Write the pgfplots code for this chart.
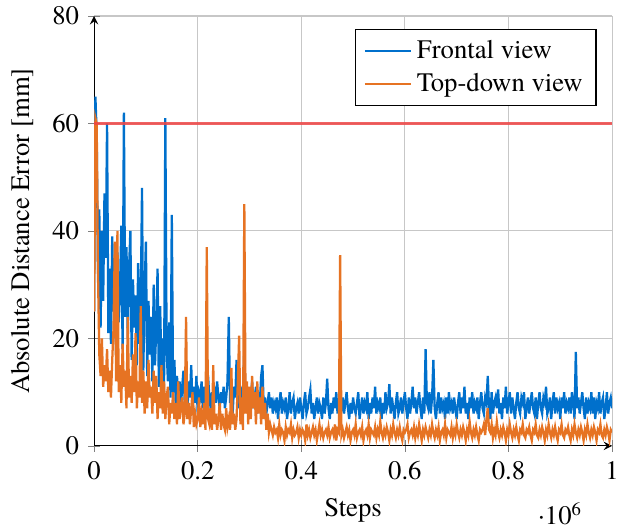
\documentclass[border=0pt]{standalone}
\usepackage{fontspec}
\setmainfont{TeX Gyre Termes}
\usepackage{pgfplots}
\usepackage{pgfplotstable}
\pgfplotsset{compat=1.18}
\definecolor{cblue}{RGB}{0,112,204}
\definecolor{corange}{RGB}{230,115,35}
\definecolor{cred}{RGB}{238,70,70}

\pgfplotstableread[header=false,row sep=\\]{
25\\65\\58\\32\\44\\22\\40\\27\\47\\35\\60\\21\\33\\19\\39\\25\\30\\17\\36\\23\\
29\\41\\18\\62\\24\\37\\20\\33\\40\\16\\31\\22\\28\\15\\34\\19\\26\\48\\14\\29\\
38\\13\\27\\17\\24\\12\\30\\15\\22\\33\\11\\26\\14\\20\\10\\61\\18\\12\\23\\9\\
43\\10\\16\\8\\13\\9\\12\\7\\11\\14\\8\\10\\6\\12\\9\\15\\7\\11\\8\\13\\
6\\10\\9\\12\\7\\11\\8\\14\\13\\9\\7\\10\\6\\11\\8\\12\\9\\7\\10\\8\\
11\\7\\9\\12\\24\\8\\10\\6\\11\\9\\16\\7\\12\\8\\10\\9\\18\\7\\11\\6\\
10\\8\\12\\7\\9\\11\\6\\10\\8\\13\\15\\7\\9\\6\\8\\10\\7\\9\\6\\8\\
7\\9\\5\\8\\10\\6\\8\\7\\9\\5\\7\\10\\6\\8\\9\\5\\7\\8\\6\\9\\
7\\5\\8\\10\\6\\7\\9\\10.5\\6\\8\\5\\7\\9\\6\\8\\7\\5\\9\\6\\8\\
12.5\\7\\5\\8\\6\\9\\7\\10\\6\\8\\5\\7\\9\\6\\8\\10\\7\\5\\8\\6\\
9\\7\\6\\8\\10\\5\\7\\9\\6\\8\\7\\10\\5\\8\\6\\9\\7\\11\\6\\8\\
7\\9\\5\\8\\6\\10\\7\\8\\11.5\\6\\9\\7\\5\\8\\10\\6\\7\\9\\6\\8\\
10\\7\\5\\9\\6\\8\\11\\7\\9\\6\\8\\10\\7\\5\\9\\6\\18\\8\\7\\10\\
6\\9\\16\\7\\5\\8\\10\\6\\9\\7\\8\\5\\9\\6\\10\\7\\8\\6\\9\\7\\
5\\8\\10\\6\\9\\7\\11\\6\\8\\5\\9\\7\\10\\6\\8\\7\\9\\5\\8\\10\\
7\\6\\9\\8\\13\\7\\5\\10\\6\\8\\9\\7\\10.5\\6\\8\\5\\9\\7\\11\\6\\
8\\10\\6\\9\\7\\5\\8\\10\\7\\6\\9\\8\\10\\5\\7\\9\\6\\8\\10\\7\\
6\\9\\5\\8\\10\\7\\6\\9\\8\\11\\6\\7\\9\\5\\8\\10\\6\\9\\7\\8\\
5\\9\\7\\10\\6\\8\\7\\9\\6\\10\\8\\5\\17.5\\7\\9\\6\\8\\10\\7\\5\\
9\\6\\8\\7\\10\\6\\9\\5\\8\\7\\10\\6\\8\\9\\5\\7\\10\\6\\8\\9\\
7\\
}\frontal

\pgfplotstableread[header=false,row sep=\\]{
25\\61\\60\\32\\17\\13\\20\\11\\15\\12\\18\\10\\14\\9\\16\\22\\38\\12\\40\\10\\
15\\8\\19\\11\\14\\7\\24\\9\\13\\8\\17\\10\\21\\7\\12\\9\\26\\8\\14\\6\\
12\\7\\16\\9\\11\\6\\14\\8\\13\\5\\10\\7\\15\\6\\12\\5\\9\\11\\4\\8\\
6\\10\\5\\8\\4\\12\\5\\7\\9\\4\\6\\24\\5\\8\\4\\7\\10\\3.5\\6\\4\\
5\\9\\3.5\\6\\4\\8\\3\\37\\5\\4\\7\\3\\15\\4\\6\\3\\5\\8\\3\\6\\
4\\3\\7\\3.5\\5\\3\\14.5\\4\\6\\3\\5\\12\\20.5\\4\\9\\3\\45\\6\\12\\4\\
11\\5\\13\\7\\10\\4\\12\\6\\9\\4\\11\\5\\8\\3\\6\\2.5\\4\\3\\2\\3.5\\
2.5\\3\\1.5\\4\\2\\3\\2.5\\1\\3.5\\2\\3\\2.5\\4\\1.5\\3\\2\\2.5\\3.5\\1.5\\3\\
2\\3\\2.5\\1\\4\\2\\3\\1.5\\2.5\\3.5\\2\\3\\1\\2.5\\4\\2\\3\\1.5\\2.5\\3\\
2\\3.5\\1.5\\2.5\\3\\2\\4\\1\\3\\2.5\\35.5\\2\\3\\1.5\\2.5\\3.5\\2\\3\\1\\2.5\\
3\\2\\4\\1.5\\2.5\\3\\2\\3.5\\1\\2.5\\3\\2\\4\\1.5\\3\\2.5\\2\\3.5\\1.5\\3\\
2\\4.5\\2.5\\1.5\\3\\2\\3.5\\2.5\\1\\3\\2\\4\\2.5\\1.5\\3\\2\\3.5\\2\\1\\3\\
2.5\\3\\4\\1.5\\2.5\\3\\2\\3.5\\1.5\\3\\2\\4\\2.5\\1\\3\\2\\3.5\\2.5\\1.5\\3\\
2\\4\\2.5\\1.5\\3\\2\\3.5\\1\\2.5\\3\\2\\4\\1.5\\3\\2.5\\2\\3.5\\1.5\\3\\2\\
4\\2.5\\1.5\\3\\2\\3.5\\2.5\\1\\3\\2\\4.5\\2.5\\1.5\\3\\2\\3.5\\2\\1\\3\\2.5\\
3\\4\\2\\5\\7\\3\\2.5\\4\\1.5\\3\\2\\4.5\\2.5\\1.5\\3\\2\\3.5\\2.5\\1\\3\\
2\\4\\2.5\\1.5\\3\\2\\3.5\\2\\1\\3\\2.5\\4\\2\\1.5\\3\\2.5\\3.5\\2\\1\\3\\
2.5\\4\\2\\1.5\\3\\2\\3.5\\2.5\\1\\3\\2\\4\\2.5\\1.5\\3\\2\\3.5\\2\\1\\3\\
2.5\\4\\2\\1.5\\3\\2.5\\3.5\\2\\1\\3\\2\\4\\2.5\\1.5\\3\\2\\3.5\\2.5\\1\\3\\
2\\4\\2.5\\1.5\\3\\2\\3.5\\2.5\\1\\3\\2.5\\4\\2\\1.5\\3\\2\\3.5\\2.5\\1\\3\\
2.5\\
}\topdown

\begin{document}
\begin{tikzpicture}
\begin{axis}[
  scale only axis,
  width=194pt, height=161pt,
  xmin=0, xmax=1000000,
  ymin=0, ymax=80,
  axis lines=left,
  grid=major,
  grid style={black!22},
  xtick={0,200000,400000,600000,800000,1000000},
  ytick={0,20,40,60,80},
  /pgf/number format/assume math mode=true,
  xtick scale label code/.code={·10\textsuperscript{#1}},
  xlabel={Steps},
  ylabel={Absolute Distance Error [mm]},
  legend style={draw=black, fill=white, legend cell align=left, font=\normalsize},
  legend pos=north east,
  tick label style={font=\normalsize},
]
\addplot[cblue, line width=0.85pt] table[x expr=\coordindex*2500, y index=0] {\frontal};
\addlegendentry{Frontal view}
\addplot[corange, line width=0.85pt] table[x expr=\coordindex*2500, y index=0] {\topdown};
\addlegendentry{Top-down view}
\addplot[cred, line width=0.85pt, opacity=0.85, forget plot] coordinates {(0,60) (1000000,60)};
\coordinate (SW) at (rel axis cs:0,0);
\coordinate (NE) at (rel axis cs:1,1);
\end{axis}
\pgfresetboundingbox
\path ([shift={(-35.25pt,-30.8pt)}]SW) rectangle ([shift={(2.6pt,6pt)}]NE);
\end{tikzpicture}
\end{document}
